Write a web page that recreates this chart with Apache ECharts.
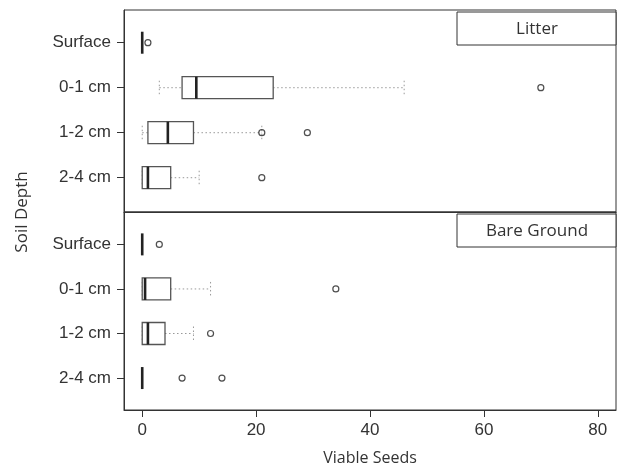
<!DOCTYPE html>
<html><head><meta charset="utf-8">
<script src="https://cdn.jsdelivr.net/npm/echarts@6/dist/echarts.min.js"></script>
<style>html,body{margin:0;padding:0;background:#fff}#c{width:619px;height:467px}</style>
</head><body><div id="c"></div>
<script>
// ---- data ----
const categories = ['Surface', '0-1 cm', '1-2 cm', '2-4 cm'];
const panels = ['Litter', 'Bare Ground'];
const xTicks = [0, 20, 40, 60, 80];
// [whiskerLow, Q1, median, Q3, whiskerHigh] per category
const litterStats = [
  [0, 0, 0, 0, 0],
  [3, 7, 9.5, 23, 46],
  [0, 1, 4.5, 9, 21],
  [0, 0, 1, 5, 10]
];
const litterOutliers = [[1], [70], [21, 29], [21]];
const bareStats = [
  [0, 0, 0, 0, 0],
  [0, 0, 0.5, 5, 12],
  [0, 0, 1, 4, 9],
  [0, 0, 0, 0, 0]
];
const bareOutliers = [[3], [34], [12], [7, 14]];

// ---- chart ----
const TICK_FONT = 'Liberation Sans, Arial, sans-serif';
const TITLE_FONT = 'Open Sans, Lato, sans-serif';
const chart = echarts.init(document.getElementById('c'), null, {renderer: 'canvas'});

function boxData(stats) {
  return stats.map((s, i) => [i + 1].concat(s));
}
function outlierData(outs) {
  const r = [];
  outs.forEach((arr, i) => arr.forEach(v => r.push([v, i + 1])));
  return r;
}
function renderBox(params, api) {
  const c = api.value(0);
  const lo = api.value(1), q1 = api.value(2), md = api.value(3), q3 = api.value(4), hi = api.value(5);
  const p = v => api.coord([v, c]);
  const y = p(0)[1];
  const bh = 11, ch = 7;
  const dotted = {stroke: '#999', lineWidth: 1, lineDash: [1.5, 2.5], fill: null};
  const children = [];
  if (q1 > lo) {
    children.push({type: 'line', shape: {x1: p(lo)[0], y1: y, x2: p(q1)[0], y2: y}, style: dotted});
  }
  if (hi > q3) {
    children.push({type: 'line', shape: {x1: p(q3)[0], y1: y, x2: p(hi)[0], y2: y}, style: dotted});
  }
  children.push({type: 'line', shape: {x1: p(lo)[0], y1: y - ch, x2: p(lo)[0], y2: y + ch}, style: dotted});
  children.push({type: 'line', shape: {x1: p(hi)[0], y1: y - ch, x2: p(hi)[0], y2: y + ch}, style: dotted});
  if (q3 > q1) {
    const x1 = p(q1)[0], x2 = p(q3)[0];
    children.push({type: 'rect', shape: {x: x1, y: y - bh, width: x2 - x1, height: 2 * bh},
      style: {fill: '#fff', stroke: '#555', lineWidth: 1.3}});
  }
  children.push({type: 'line', shape: {x1: p(md)[0], y1: y - bh, x2: p(md)[0], y2: y + bh},
    style: {stroke: '#222', lineWidth: 2.6}});
  return {type: 'group', children: children};
}

const grids = [
  {left: 124, right: 3, top: 10, height: 202, show: true, borderColor: '#333', borderWidth: 1, backgroundColor: '#fff'},
  {left: 124, right: 3, top: 212, height: 200, show: true, borderColor: '#333', borderWidth: 1, backgroundColor: '#fff'}
];
const yRanges = [[0.273, 4.762], [0.273, 4.717]];
function xAxis(i, showLabels) {
  return {
    type: 'value', gridIndex: i, min: -3.2, max: 83.2,
    splitLine: {show: false},
    axisLine: {show: true, onZero: false, lineStyle: {color: '#333', width: 1}},
    axisTick: {show: showLabels, customValues: xTicks, length: 7, inside: false, lineStyle: {color: '#333'}},
    axisLabel: {show: showLabels, customValues: xTicks, fontFamily: TICK_FONT, fontSize: 17, color: '#333', margin: 12},
    name: showLabels ? 'Viable Seeds' : '',
    nameLocation: 'middle', nameGap: 40,
    nameTextStyle: {fontFamily: TITLE_FONT, fontSize: 16, color: '#333'}
  };
}
function yAxis(i) {
  return {
    type: 'value', gridIndex: i, min: yRanges[i][0], max: yRanges[i][1], inverse: true,
    splitLine: {show: false},
    axisLine: {show: true, onZero: false, lineStyle: {color: '#333', width: 1}},
    axisTick: {show: true, customValues: [1, 2, 3, 4], length: 7, lineStyle: {color: '#333'}},
    axisLabel: {customValues: [1, 2, 3, 4], formatter: v => categories[Math.round(v) - 1] || '',
      fontFamily: TICK_FONT, fontSize: 17, color: '#333', margin: 13}
  };
}
const series = [];
[[litterStats, litterOutliers], [bareStats, bareOutliers]].forEach((d, i) => {
  series.push({
    type: 'custom', xAxisIndex: i, yAxisIndex: i, renderItem: renderBox,
    data: boxData(d[0]), encode: {y: 0, x: [1, 2, 3, 4, 5]}, silent: true, z: 2
  });
  series.push({
    type: 'scatter', xAxisIndex: i, yAxisIndex: i, data: outlierData(d[1]),
    symbol: 'circle', symbolSize: 6,
    itemStyle: {color: 'rgba(255,255,255,0)', borderColor: '#222', borderWidth: 1.2}, silent: true, z: 3
  });
});

const stripTops = [12, 214];
const graphic = [];
panels.forEach((name, i) => {
  graphic.push({type: 'rect', shape: {x: 457, y: stripTops[i], width: 159, height: 33},
    style: {fill: '#fff', stroke: '#333', lineWidth: 1}, z: 10});
  graphic.push({type: 'text', x: 537, y: stripTops[i] + 17,
    style: {text: name, fontFamily: TITLE_FONT, fontSize: 17, fill: '#333', textAlign: 'center', textVerticalAlign: 'middle'}, z: 11});
});
graphic.push({type: 'text', x: 22, y: 212, rotation: Math.PI / 2,
  style: {text: 'Soil Depth', fontFamily: TITLE_FONT, fontSize: 17, fill: '#333', textAlign: 'center', textVerticalAlign: 'middle'}});

chart.setOption({
  animation: false,
  backgroundColor: '#fff',
  grid: grids,
  xAxis: [xAxis(0, false), xAxis(1, true)],
  yAxis: [yAxis(0), yAxis(1)],
  series: series,
  graphic: graphic
});
</script></body></html>
